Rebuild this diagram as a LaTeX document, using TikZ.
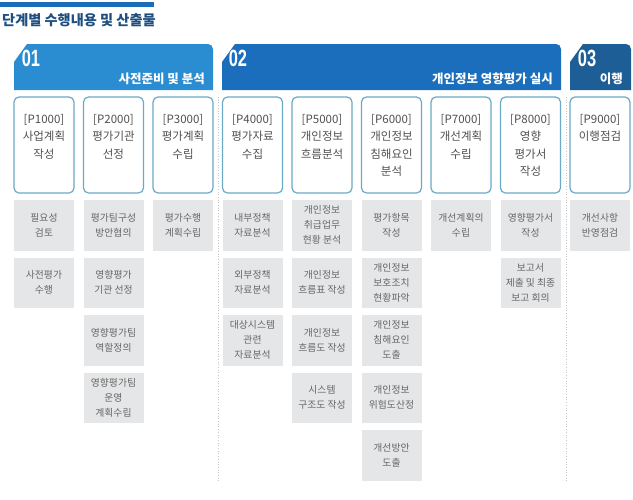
\documentclass[tikz,border=0pt]{standalone}
\usepackage{fontspec}
\setmainfont{Noto Sans CJK KR}
\newfontfamily\numfont{Liberation Sans}
\usepackage{xcolor}
\usepackage{tikz}
\usetikzlibrary{positioning, calc}

\definecolor{titleblue}{HTML}{1E4F80}
\definecolor{barblue}{HTML}{1A6CB8}
\definecolor{phaseA}{HTML}{2A8DD2}
\definecolor{phaseB}{HTML}{1A6EBB}
\definecolor{phaseC}{HTML}{1E5E97}
\definecolor{boxline}{HTML}{6AAAC6}
\definecolor{actfill}{HTML}{E5E6E7}
\definecolor{proctext}{HTML}{505050}
\definecolor{acttext}{HTML}{666666}

\newcommand{\ptext}[1]{\parbox[t][62pt][t]{58pt}{\centering\fontsize{11.5}{17.5}\selectfont #1}}

\begin{document}
\begin{tikzpicture}[x=1pt, y=1pt, node distance=7pt,
                % Define styles
                process/.style={rectangle, draw=boxline, line width=1.2pt, fill=white, rounded corners=5pt, minimum width=60pt, minimum height=96pt, inner sep=0pt, outer sep=0pt, text=proctext},
                activity/.style={rectangle, fill=actfill, minimum width=60pt, minimum height=50.5pt, inner sep=1pt, outer sep=0pt, align=center, text=acttext, font=\fontsize{9.8}{15}\selectfont},
                phasenum/.style={text=white, inner sep=0pt, font=\numfont\bfseries\fontsize{23.5}{24}\selectfont, xscale=0.7, transform shape},
                phasetitle/.style={anchor=east, text=white, inner sep=0pt, font=\bfseries\fontsize{12.5}{14}\selectfont},
                sepline/.style={draw=gray!45, dotted, line width=0.7pt}
            ]
            \useasboundingbox (0,0) rectangle (633,-499);

            % --- Title ---
            \fill[barblue] (0,-2) rectangle (154,-7);
            \node[anchor=west, inner sep=2pt, text=titleblue, font=\bfseries\fontsize{14.2}{15}\selectfont] (title) at (0,-20.5) {단계별 수행내용 및 산출물};

            % --- Phase banners ---
            \fill[phaseA] (14,-62) -- (27,-44) -- (208,-44) arc[start angle=90, end angle=0, radius=5] -- (213,-90) -- (14,-90) -- cycle;
            \fill[phaseB] (222,-62) -- (235,-44) -- (556,-44) arc[start angle=90, end angle=0, radius=5] -- (561,-90) -- (222,-90) -- cycle;
            \fill[phaseC] (570,-62) -- (583,-44) -- (626,-44) arc[start angle=90, end angle=0, radius=5] -- (631,-90) -- (570,-90) -- cycle;

            \node[phasenum] (num1) at (31,-58.5) {01};
            \node[phasenum] (num2) at (238,-58.5) {02};
            \node[phasenum] (num3) at (587,-58.5) {03};

            \node[phasetitle] (phase1) at (205,-79) {사전준비 및 분석};
            \node[phasetitle] (phase2) at (553,-79) {개인정보 영향평가 실시};
            \node[phasetitle] (phase3) at (623,-79) {이행};

            % --- Separators ---
            \coordinate (sepA) at (218,-97);
            \coordinate (sepAend) at (218,-481);
            \coordinate (sepB) at (566,-97);
            \coordinate (sepBend) at (566,-481);
            \draw[sepline] (sepA) -- (sepAend);
            \draw[sepline] (sepB) -- (sepBend);

            % --- Process steps ---
            \node[process] (p1) at (44,-145) {\ptext{[P1000]\\사업계획\\작성}};
            \node[process, right=9.5pt of p1] (p2) {\ptext{[P2000]\\평가기관\\선정}};
            \node[process, right=9.5pt of p2] (p3) {\ptext{[P3000]\\평가계획\\수립}};
            \node[process, right=9.5pt of p3] (p4) {\ptext{[P4000]\\평가자료\\수집}};
            \node[process, right=9.5pt of p4] (p5) {\ptext{[P5000]\\개인정보\\흐름분석}};
            \node[process, right=9.5pt of p5] (p6) {\ptext{[P6000]\\개인정보\\침해요인\\분석}};
            \node[process, right=9.5pt of p6] (p7) {\ptext{[P7000]\\개선계획\\수립}};
            \node[process, right=9.5pt of p7] (p8) {\ptext{[P8000]\\영향\\평가서\\작성}};
            \node[process, right=9.5pt of p8] (p9) {\ptext{[P9000]\\이행점검}};

            % --- Activities ---
            % 1. P1000
            \node[activity, below=of p1] (a11) {필요성\\검토};
            \node[activity, below=of a11] (a12) {사전평가\\수행};

            % 2. P2000
            \node[activity, below=of p2] (a21) {평가팀구성\\방안협의};
            \node[activity, below=of a21] (a22) {영향평가\\기관 선정};
            \node[activity, below=of a22] (a23) {영향평가팀\\역할정의};
            \node[activity, below=of a23] (a24) {영향평가팀\\운영\\계획수립};

            % 3. P3000
            \node[activity, below=of p3] (a31) {평가수행\\계획수립};

            % 4. P4000
            \node[activity, below=of p4] (a41) {내부정책\\자료분석};
            \node[activity, below=of a41] (a42) {외부정책\\자료분석};
            \node[activity, below=of a42] (a43) {대상시스템\\관련\\자료분석};

            % 5. P5000
            \node[activity, below=of p5] (a51) {개인정보\\취급업무\\현황 분석};
            \node[activity, below=of a51] (a52) {개인정보\\흐름표 작성};
            \node[activity, below=of a52] (a53) {개인정보\\흐름도 작성};
            \node[activity, below=of a53] (a54) {시스템\\구조도 작성};

            % 6. P6000
            \node[activity, below=of p6] (a61) {평가항목\\작성};
            \node[activity, below=of a61] (a62) {개인정보\\보호조치\\현황파악};
            \node[activity, below=of a62] (a63) {개인정보\\침해요인\\도출};
            \node[activity, below=of a63] (a64) {개인정보\\위험도산정};
            \node[activity, below=of a64] (a65) {개선방안\\도출};

            % 7. P7000
            \node[activity, below=of p7] (a71) {개선계획의\\수립};

            % 8. P8000
            \node[activity, below=of p8] (a81) {영향평가서\\작성};
            \node[activity, below=of a81] (a82) {보고서\\제출 및 최종\\보고 회의};

            % 9. P9000
            \node[activity, below=of p9] (a91) {개선사항\\반영점검};

\end{tikzpicture}
\end{document}
